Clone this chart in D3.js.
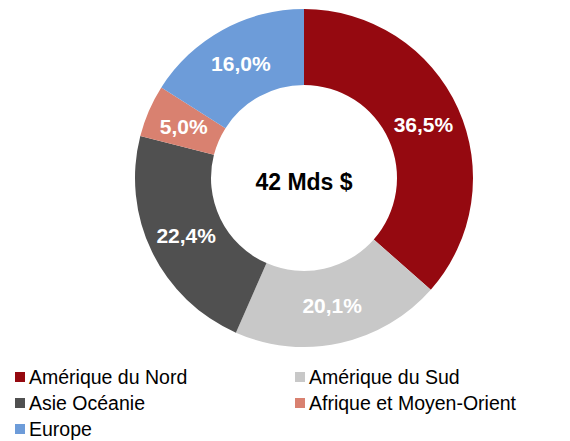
<!DOCTYPE html>
<html>
<head>
<meta charset="utf-8">
<script src="https://cdn.jsdelivr.net/npm/d3@7"></script>
<style>
  body { margin: 0; background: #fff; }
  svg { display: block; font-family: Arial, "Liberation Sans", sans-serif; }
</style>
</head>
<body>
<div id="chart"></div>
<script>
// regions and their share of the total
var regions = ["Amérique du Nord", "Amérique du Sud", "Asie Océanie", "Afrique et Moyen-Orient", "Europe"];
var shares = [36.5, 20.1, 22.4, 5.0, 16.0];
var colors = ["#950910", "#c8c8c8", "#505050", "#d98170", "#6d9cd9"];
var totalLabel = "42 Mds $";

var width = 570, height = 441;
var cx = 304, cy = 178;
var outerR = 169, innerR = 93;

var svg = d3.select("#chart")
    .append("svg")
    .attr("width", width)
    .attr("height", height);

var data = regions.map(function (r, i) { return { name: r, value: shares[i], color: colors[i] }; });

var pie = d3.pie()
    .sort(null)
    .value(function (d) { return d.value; });

var arc = d3.arc()
    .innerRadius(innerR)
    .outerRadius(outerR);

var g = svg.append("g")
    .attr("transform", "translate(" + cx + "," + cy + ")");

var slices = g.selectAll(".slice")
    .data(pie(data))
    .enter().append("g")
    .attr("class", "slice");

slices.append("path")
    .attr("d", arc)
    .attr("fill", function (d) { return d.data.color; });

slices.append("text")
    .attr("transform", function (d) { return "translate(" + arc.centroid(d) + ")"; })
    .attr("text-anchor", "middle")
    .attr("dy", "0.36em")
    .attr("fill", "#fff")
    .attr("font-weight", "bold")
    .attr("font-size", "21px")
    .text(function (d) { return d3.format(".1f")(d.data.value).replace(".", ",") + "%"; });

// total in the hole
g.append("text")
    .attr("text-anchor", "middle")
    .attr("dy", "0.36em")
    .attr("y", 4)
    .attr("font-weight", "bold")
    .attr("font-size", "23px")
    .attr("fill", "#000")
    .text(totalLabel);

// legend, two columns
var legend = svg.selectAll(".legend")
    .data(data)
    .enter().append("g")
    .attr("class", "legend")
    .attr("transform", function (d, i) {
        var col = i % 2, row = Math.floor(i / 2);
        return "translate(" + (15 + col * 280) + "," + (377 + row * 26) + ")";
    });

legend.append("rect")
    .attr("x", 0)
    .attr("y", -5)
    .attr("width", 10)
    .attr("height", 10)
    .attr("fill", function (d) { return d.color; });

legend.append("text")
    .attr("x", 14)
    .attr("dy", "0.36em")
    .attr("font-size", "19.5px")
    .attr("fill", "#000")
    .text(function (d) { return d.name; });
</script>
</body>
</html>
